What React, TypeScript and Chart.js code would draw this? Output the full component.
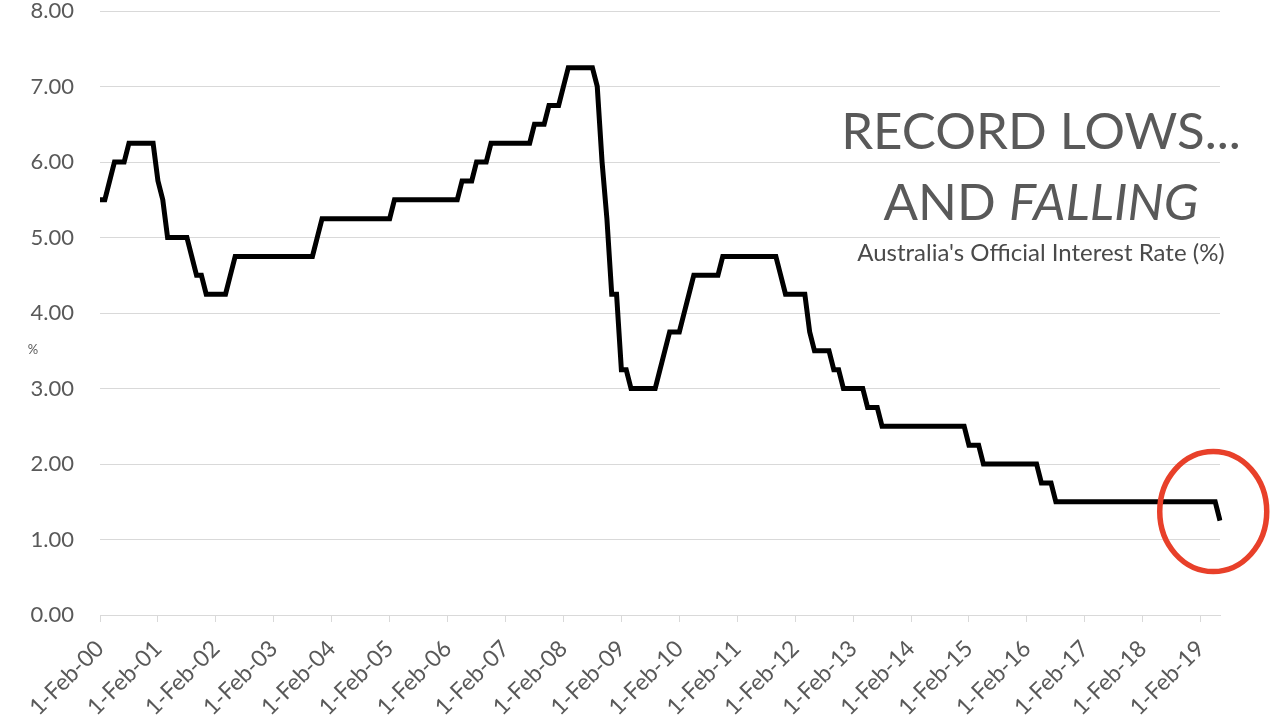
import React, { useEffect, useRef } from "react";
import { Chart, registerables } from "chart.js";

Chart.register(...registerables);

// ---- Data -------------------------------------------------------------
const monthNames = ["Jan", "Feb", "Mar", "Apr", "May", "Jun", "Jul", "Aug", "Sep", "Oct", "Nov", "Dec"];
const firstYear = 2000;
const firstMonth = 1; // Feb
const lastYear = 2019;
const lastMonth = 5; // Jun

// Monthly categories, 1-Feb-00 ... 1-Jun-19
const categories: string[] = [];
for (let y = firstYear; y <= lastYear; y++) {
  const m0 = y === firstYear ? firstMonth : 0;
  const m1 = y === lastYear ? lastMonth : 11;
  for (let m = m0; m <= m1; m++) {
    categories.push(`1-${monthNames[m]}-${String(y % 100).padStart(2, "0")}`);
  }
}

// Official cash rate (%), month by month
const rate2000 = [5.5, 5.5, 5.75, 6.0, 6.0, 6.0, 6.25, 6.25, 6.25, 6.25, 6.25]; // Feb-Dec
const rate2001 = [6.25, 5.75, 5.5, 5.0, 5.0, 5.0, 5.0, 5.0, 4.75, 4.5, 4.5, 4.25];
const rate2002 = [4.25, 4.25, 4.25, 4.25, 4.5, 4.75, 4.75, 4.75, 4.75, 4.75, 4.75, 4.75];
const rate2003 = [4.75, 4.75, 4.75, 4.75, 4.75, 4.75, 4.75, 4.75, 4.75, 4.75, 5.0, 5.25];
const rate2004 = [5.25, 5.25, 5.25, 5.25, 5.25, 5.25, 5.25, 5.25, 5.25, 5.25, 5.25, 5.25];
const rate2005 = [5.25, 5.25, 5.5, 5.5, 5.5, 5.5, 5.5, 5.5, 5.5, 5.5, 5.5, 5.5];
const rate2006 = [5.5, 5.5, 5.5, 5.5, 5.75, 5.75, 5.75, 6.0, 6.0, 6.0, 6.25, 6.25];
const rate2007 = [6.25, 6.25, 6.25, 6.25, 6.25, 6.25, 6.25, 6.5, 6.5, 6.5, 6.75, 6.75];
const rate2008 = [6.75, 7.0, 7.25, 7.25, 7.25, 7.25, 7.25, 7.25, 7.0, 6.0, 5.25, 4.25];
const rate2009 = [4.25, 3.25, 3.25, 3.0, 3.0, 3.0, 3.0, 3.0, 3.0, 3.25, 3.5, 3.75];
const rate2010 = [3.75, 3.75, 4.0, 4.25, 4.5, 4.5, 4.5, 4.5, 4.5, 4.5, 4.75, 4.75];
const rate2011 = [4.75, 4.75, 4.75, 4.75, 4.75, 4.75, 4.75, 4.75, 4.75, 4.75, 4.5, 4.25];
const rate2012 = [4.25, 4.25, 4.25, 4.25, 3.75, 3.5, 3.5, 3.5, 3.5, 3.25, 3.25, 3.0];
const rate2013 = [3.0, 3.0, 3.0, 3.0, 2.75, 2.75, 2.75, 2.5, 2.5, 2.5, 2.5, 2.5];
const rate2014 = [2.5, 2.5, 2.5, 2.5, 2.5, 2.5, 2.5, 2.5, 2.5, 2.5, 2.5, 2.5];
const rate2015 = [2.5, 2.25, 2.25, 2.25, 2.0, 2.0, 2.0, 2.0, 2.0, 2.0, 2.0, 2.0];
const rate2016 = [2.0, 2.0, 2.0, 2.0, 1.75, 1.75, 1.75, 1.5, 1.5, 1.5, 1.5, 1.5];
const rate2017 = [1.5, 1.5, 1.5, 1.5, 1.5, 1.5, 1.5, 1.5, 1.5, 1.5, 1.5, 1.5];
const rate2018 = [1.5, 1.5, 1.5, 1.5, 1.5, 1.5, 1.5, 1.5, 1.5, 1.5, 1.5, 1.5];
const rate2019 = [1.5, 1.5, 1.5, 1.5, 1.5, 1.25]; // Jan-Jun

const cashRate = [
  ...rate2000, ...rate2001, ...rate2002, ...rate2003, ...rate2004,
  ...rate2005, ...rate2006, ...rate2007, ...rate2008, ...rate2009,
  ...rate2010, ...rate2011, ...rate2012, ...rate2013, ...rate2014,
  ...rate2015, ...rate2016, ...rate2017, ...rate2018, ...rate2019,
];

const yTickLabels = ["0.00", "1.00", "2.00", "3.00", "4.00", "5.00", "6.00", "7.00", "8.00"];

const titleLine1 = "RECORD LOWS...";
const titleLine2a = "AND ";
const titleLine2b = "FALLING";
const subtitle = "Australia's Official Interest Rate (%)";
const yAxisUnit = "%";

// ---- Styles -----------------------------------------------------------
const FONT = "Lato, 'Open Sans', sans-serif";
const TEXT_GREY = "#595959";
const GRID_GREY = "#d9d9d9";

const overlayPlugin = {
  id: "overlay",
  afterDatasetsDraw(chart: any) {
    const { ctx } = chart;
    const xs = chart.scales.x;
    const ys = chart.scales.y;
    const lastIndex = cashRate.length - 1;
    // red ring highlighting the latest cut
    const cx = xs.getPixelForValue(lastIndex - 1.4);
    const cy = ys.getPixelForValue(1.37);
    ctx.save();
    ctx.beginPath();
    ctx.ellipse(cx, cy, 53.5, 60, 0, 0, Math.PI * 2);
    ctx.lineWidth = 5.5;
    ctx.strokeStyle = "#e8402a";
    ctx.stroke();
    ctx.restore();
  },
  afterDraw(chart: any) {
    const { ctx } = chart;
    const centerX = 1041;
    ctx.save();
    ctx.fillStyle = TEXT_GREY;
    ctx.textBaseline = "alphabetic";
    ctx.textAlign = "left";

    ctx.font = `51px ${FONT}`;
    const w1 = ctx.measureText(titleLine1).width;
    ctx.fillText(titleLine1, centerX - w1 / 2, 149);

    ctx.font = `51px ${FONT}`;
    const wa = ctx.measureText(titleLine2a).width;
    ctx.font = `italic 51px ${FONT}`;
    const wb = ctx.measureText(titleLine2b).width;
    const start2 = centerX - (wa + wb) / 2;
    ctx.font = `51px ${FONT}`;
    ctx.fillText(titleLine2a, start2, 220);
    ctx.font = `italic 51px ${FONT}`;
    ctx.fillText(titleLine2b, start2 + wa, 220);

    ctx.font = `24px ${FONT}`;
    ctx.fillStyle = "#4a4a4a";
    const ws = ctx.measureText(subtitle).width;
    ctx.fillText(subtitle, centerX - ws / 2, 261);

    ctx.font = `13px ${FONT}`;
    ctx.fillStyle = TEXT_GREY;
    ctx.textAlign = "center";
    ctx.textBaseline = "middle";
    ctx.fillText(yAxisUnit, 33, 350);
    ctx.restore();
  },
};

export default function App() {
  const canvasRef = useRef<HTMLCanvasElement | null>(null);

  useEffect(() => {
    document.body.style.margin = "0";
    const canvas = canvasRef.current;
    if (!canvas) return;
    const chart = new Chart(canvas, {
      type: "line",
      data: {
        labels: categories,
        datasets: [
          {
            label: "Cash rate",
            data: cashRate,
            borderColor: "#000000",
            borderWidth: 5,
            pointRadius: 0,
            tension: 0,
            fill: false,
            borderJoinStyle: "miter",
            borderCapStyle: "butt",
          },
        ],
      },
      options: {
        animation: false,
        responsive: false,
        devicePixelRatio: 1,
        layout: { padding: { top: 11, right: 60, left: 0, bottom: 0 } },
        plugins: {
          legend: { display: false },
          tooltip: { enabled: false },
          title: { display: false },
        },
        scales: {
          x: {
            type: "category",
            offset: false,
            border: { display: true, color: GRID_GREY, width: 1 },
            grid: {
              drawOnChartArea: false,
              drawTicks: true,
              tickLength: 7,
              color: (c: any) => (c.index % 12 === 0 ? GRID_GREY : "rgba(0,0,0,0)"),
            },
            ticks: {
              autoSkip: false,
              minRotation: 45,
              maxRotation: 45,
              padding: 13,
              color: TEXT_GREY,
              font: { family: FONT, size: 23 },
              callback: (_v: any, i: number) => (i % 12 === 0 ? categories[i] : ""),
            },
            afterFit: (s: any) => {
              s.height = 105;
              s.paddingLeft = 0;
              s.paddingRight = 0;
            },
          },
          y: {
            min: 0,
            max: 8,
            border: { display: false },
            grid: { color: GRID_GREY, lineWidth: 1, drawTicks: false },
            ticks: {
              stepSize: 1,
              padding: 26,
              color: TEXT_GREY,
              font: { family: FONT, size: 22 },
              callback: (v: any) => yTickLabels[Math.round(Number(v))] ?? "",
            },
            afterFit: (s: any) => {
              s.width = 100;
              s.paddingTop = 0;
              s.paddingBottom = 0;
            },
          },
        },
      },
      plugins: [overlayPlugin],
    });
    return () => chart.destroy();
  }, []);

  return (
    <div style={{ position: "fixed", left: 0, top: 0, width: 1280, height: 720, background: "#ffffff" }}>
      <canvas ref={canvasRef} width={1280} height={720} style={{ width: 1280, height: 720, display: "block" }} />
    </div>
  );
}
